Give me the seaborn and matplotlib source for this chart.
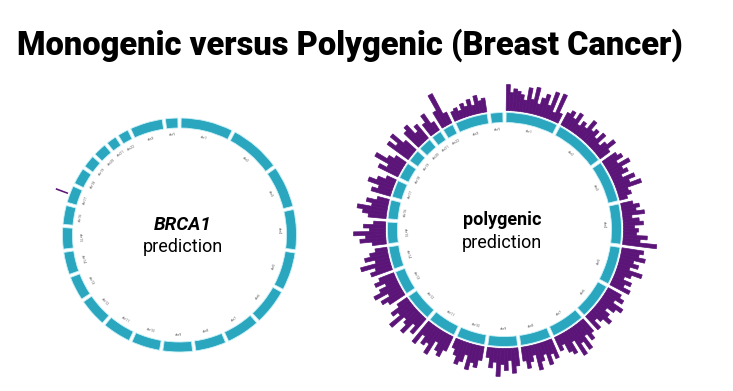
"""
Circular genome plots: one BRCA1 hit versus a polygenic score
spread over every chromosome.
"""

import numpy as np
import matplotlib.pyplot as plt
import seaborn as sns

sns.set_theme(style="white")
plt.rcParams['font.family'] = ['Roboto', 'DejaVu Sans']

chrom_names = ['chr1', 'chr2', 'chr3', 'chr4', 'chr5', 'chr6', 'chr7',
               'chr8', 'chr9', 'chr10', 'chr11', 'chr12', 'chr13', 'chr14',
               'chr15', 'chr16', 'chr17', 'chr18', 'chr19', 'chr20',
               'chr21', 'chr22', 'chrX', 'chrY']
chrom_sizes = [249, 243, 198, 191, 181, 171, 159, 146, 141, 136, 135, 134,
               115, 107, 102, 90, 81, 78, 59, 63, 48, 51, 155, 59]

# single BRCA1 signal (chr17, Mb, bar height)
brca1_chrom = 'chr17'
brca1_pos = 41
brca1_height = 13

# polygenic signal, bar heights per chromosome bin
poly_heights = [
    [26, 18, 22, 20, 17, 12, 25, 14, 27, 11, 18, 23, 13, 28, 8, 29, 10],
    [14, 18, 12, 20, 9, 15, 11, 22, 13, 17, 10, 19, 8, 14, 22, 12],
    [16, 20, 12, 24, 14, 18, 10, 22, 15, 26, 11, 13, 8],
    [12, 18, 14, 22, 9, 16, 20, 11, 15, 13, 24, 17, 34],
    [22, 18, 25, 14, 20, 12, 26, 16, 10, 19, 13, 21],
    [15, 20, 12, 24, 18, 10, 16, 22, 14, 9, 18],
    [16, 22, 14, 28, 18, 30, 12, 24, 20, 10, 15],
    [20, 14, 24, 12, 18, 26, 10, 16, 22, 14],
    [18, 25, 12, 22, 16, 28, 14, 20, 10],
    [14, 22, 18, 26, 12, 20, 24, 16, 10],
    [16, 24, 20, 12, 28, 18, 22, 14, 26],
    [20, 12, 26, 18, 14, 30, 16, 22, 12],
    [18, 24, 14, 28, 20, 12, 22, 16],
    [22, 16, 30, 14, 24, 18, 12],
    [14, 26, 20, 32, 16, 22, 12],
    [18, 24, 30, 16, 22, 12],
    [20, 14, 26, 18, 10],
    [22, 14, 30, 18, 12],
    [26, 18, 28, 14],
    [20, 24, 12, 18],
    [14, 22, 10],
    [18, 35, 12],
    [10, 12, 8, 14, 10, 16, 9, 18, 12, 14],
    [],
]

TEAL = '#2ba6bf'
PURPLE = '#5b1478'
GAP = np.deg2rad(1.6)
RING_IN, RING_W, BAR_BASE = 107, 10, 119


def chrom_layout():
    sizes = np.array(chrom_sizes, dtype=float)
    scale = (2 * np.pi - GAP * len(sizes)) / sizes.sum()
    starts = GAP / 2 + np.concatenate([[0], np.cumsum(sizes * scale + GAP)[:-1]])
    return starts, sizes * scale, scale


def draw_ring(ax):
    starts, widths, scale = chrom_layout()
    ax.bar(starts, RING_W, width=widths, bottom=RING_IN, align='edge',
           color=TEAL, edgecolor='#c9f1f7', linewidth=0.6)
    for name, s, w in zip(chrom_names, starts, widths):
        mid = s + w / 2
        deg = np.rad2deg(mid)
        rot = -deg
        if 90 < deg < 270:
            rot += 180
        ax.text(mid, RING_IN - 7, name, fontsize=2.6, color='#666666',
                rotation=rot, ha='center', va='center')
    ax.set_theta_zero_location('N')
    ax.set_theta_direction(-1)
    ax.set_ylim(0, 160)
    ax.set_axis_off()
    return starts, widths, scale


fig = plt.figure(figsize=(7.33, 3.91), dpi=100)
W, H = 733, 391

# left: monogenic
ax1 = fig.add_axes([(179.5 - 160) / W, (156 - 160) / H, 320 / W, 320 / H],
                   projection='polar')
starts, widths, scale = draw_ring(ax1)
k = chrom_names.index(brca1_chrom)
ax1.bar(starts[k] + brca1_pos * scale, brca1_height, width=7 * scale,
        bottom=BAR_BASE, align='center', color=PURPLE, linewidth=0)
ax1.text(0.511, 0.531, 'BRCA1', transform=ax1.transAxes, fontsize=13.5,
         fontweight='bold', fontstyle='italic', ha='center', va='center',
         color='#000000')
ax1.text(0.511, 0.4625, 'prediction', transform=ax1.transAxes, fontsize=13,
         ha='center', va='center', color='#000000')

# right: polygenic
ax2 = fig.add_axes([(504.5 - 160) / W, (161.5 - 160) / H, 320 / W, 320 / H],
                   projection='polar')
starts, widths, scale = draw_ring(ax2)
for s, w, heights in zip(starts, widths, poly_heights):
    if not heights:
        continue
    bw = w / len(heights)
    theta = s + bw * np.arange(len(heights))
    ax2.bar(theta, heights, width=bw, bottom=BAR_BASE, align='edge',
            color=PURPLE, edgecolor=PURPLE, linewidth=0.5)
ax2.text(0.492, 0.53, 'polygenic', transform=ax2.transAxes, fontsize=13,
         fontweight='bold', ha='center', va='center', color='#000000')
ax2.text(0.492, 0.458, 'prediction', transform=ax2.transAxes, fontsize=13,
         ha='center', va='center', color='#000000')

fig.text(17 / W, 1 - 55 / H, 'Monogenic versus Polygenic (Breast Cancer)',
         fontsize=23.5, fontweight='heavy', ha='left', va='baseline',
         color='#000000')

fig.savefig('out.png', dpi=100)
